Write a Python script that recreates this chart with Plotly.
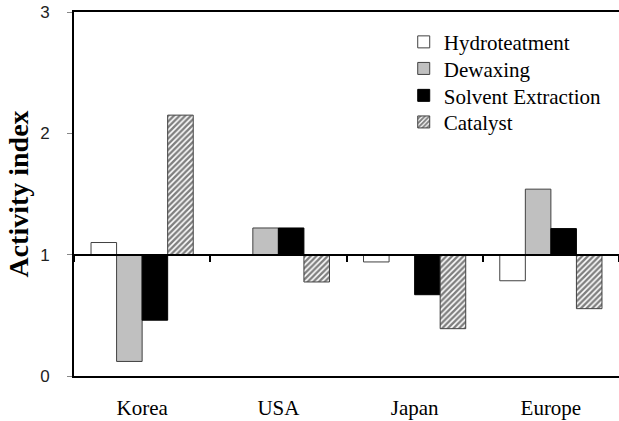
import plotly.graph_objects as go

categories = ["Korea", "USA", "Japan", "Europe"]
series_names = ["Hydroteatment", "Dewaxing", "Solvent Extraction", "Catalyst"]
hydrotreatment = [1.10, 1.00, 0.94, 0.785]
dewaxing = [0.12, 1.22, 1.00, 1.54]
solvent = [0.46, 1.22, 0.67, 1.215]
catalyst = [2.15, 0.775, 0.39, 0.555]
y_ticks = [0, 1, 2, 3]
baseline = 1.0

styles = [
    dict(color="white", line=dict(color="#404040", width=1)),
    dict(color="#c0c0c0", line=dict(color="#404040", width=1)),
    dict(color="black", line=dict(color="black", width=1)),
    dict(color="white", line=dict(color="#404040", width=1),
         pattern=dict(shape="/", fgcolor="black", bgcolor="white", size=4, solidity=0.6)),
]
legend_ids = ["legend", "legend2", "legend3", "legend4"]
legend_y = [0.917, 0.844, 0.770, 0.697]

fig = go.Figure()
for name, vals, st, lid in zip(series_names, [hydrotreatment, dewaxing, solvent, catalyst], styles, legend_ids):
    fig.add_trace(go.Bar(
        x=categories,
        y=[v - baseline for v in vals],
        base=baseline,
        name=name,
        marker=st,
        legend=lid,
    ))

# invisible trace to carry the crossing axis at y = 1
fig.add_trace(go.Scatter(x=categories, y=[None] * len(categories), xaxis="x2",
                         showlegend=False, hoverinfo="skip", mode="markers"))

legend_common = dict(x=0.605, xanchor="left", yanchor="middle",
                     font=dict(family="Liberation Serif", size=21, color="black"),
                     bgcolor="rgba(0,0,0,0)")
legends = {lid: dict(legend_common, y=ly) for lid, ly in zip(legend_ids, legend_y)}

ymin, ymax = 0, 3
fig.update_layout(
    width=619, height=421,
    margin=dict(l=74, r=0, t=12, b=45),
    font=dict(family="Liberation Serif"),
    paper_bgcolor="white", plot_bgcolor="white",
    barmode="group", bargap=0.25, bargroupgap=0,
    showlegend=True,
    **legends,
    xaxis=dict(type="category", categoryarray=categories, range=[-0.5, 3.5],
               showline=True, linecolor="black", linewidth=2, mirror=True,
               ticks="", showgrid=False, ticklabelstandoff=12,
               tickfont=dict(family="Liberation Serif", size=21, color="black")),
    xaxis2=dict(type="category", categoryarray=categories, range=[-0.5, 3.5],
                overlaying="x", anchor="free", position=(baseline - ymin) / (ymax - ymin),
                showline=True, linecolor="black", linewidth=2,
                ticks="outside", tickson="boundaries", ticklen=6, tickwidth=2, tickcolor="black",
                showticklabels=False, showgrid=False),
    yaxis=dict(range=[ymin, ymax], tickvals=y_ticks, showgrid=False, zeroline=False,
               showline=True, linecolor="black", linewidth=2,
               ticks="outside", ticklen=5, tickcolor="#888888", tickwidth=1,
               ticklabelstandoff=14,
               tickfont=dict(family="Liberation Sans", size=17, color="#222222"),
               title=dict(text="<b>Activity index</b>", standoff=3,
                          font=dict(family="Liberation Serif", size=28, color="black"))),
)

fig.write_html("out.html", config={"displayModeBar": False},
               post_script="document.body.style.margin='0px';")
